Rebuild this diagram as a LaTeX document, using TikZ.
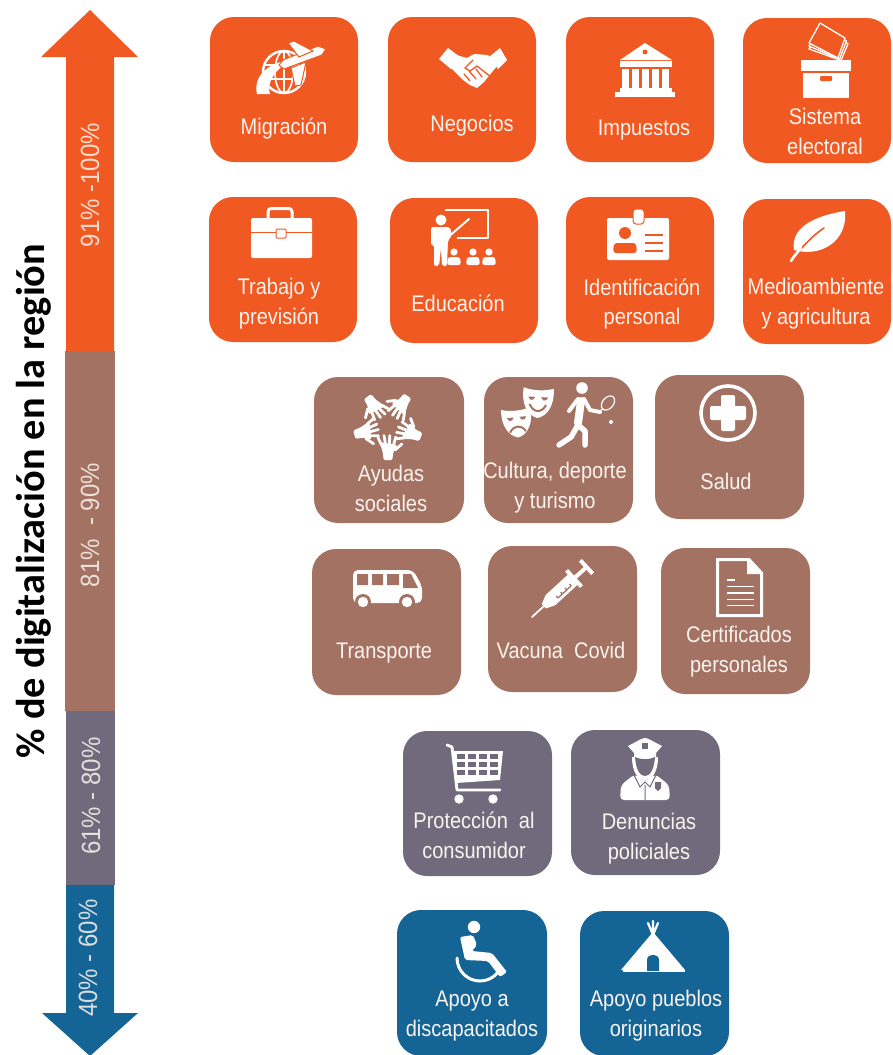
\documentclass[tikz,border=0pt]{standalone}
\usepackage{fontspec}
\setmainfont{Liberation Sans}
\newfontfamily\labfont{Liberation Sans}
\newfontfamily\ttlfont{Carlito}
\definecolor{cOr}{HTML}{F15922}
\definecolor{cBr}{HTML}{A37262}
\definecolor{cGr}{HTML}{706A7C}
\definecolor{cBl}{HTML}{146496}
\definecolor{cTx}{HTML}{FBF3EE}
\tikzset{
  card/.style={rounded corners=24pt},
  lab/.style={text=cTx,align=center,inner sep=0pt,yscale=1.13,transform shape,font=\labfont\fontsize{20}{26.5}\selectfont},
  axlab/.style={text=cTx,opacity=.85,rotate=90,yscale=1.1,transform shape,inner sep=0pt,font=\labfont\fontsize{24}{28}\selectfont},
  ln/.style={draw=white,fill=none,line cap=round,line join=round}
}
\newcommand{\onehand}{%
  \fill[white,rounded corners=1.5pt] (28,-5)--(35,-4.5)--(35,4.5)--(28,5)--(20,9.5)--(17,-8.5)--cycle;
  \draw[ln,line width=2.8pt] (20,-6.5)--(12.5,-10) (19,-2.5)--(10.5,-4) (19,1.5)--(10.5,1.7) (20,5.5)--(12,7.8) (25,7)--(19,14);
}
\newcommand{\mask}[1]{%
  \fill[white] (-15,-14) .. controls (-6,-11) and (6,-11) .. (15,-14) .. controls (17,2) and (10,14) .. (0,16) .. controls (-10,14) and (-17,2) .. (-15,-14) -- cycle;
  \fill[cBr] (-10,-5) -- (-3,-5) -- (-5,-2) -- (-8,-2) -- cycle (10,-5) -- (3,-5) -- (5,-2) -- (8,-2) -- cycle;
  #1
}
\begin{document}
\begin{tikzpicture}[x=1pt,y=-1pt]
\useasboundingbox (0,0) rectangle (892,1055);
% axis arrow
\fill[cOr] (66,351)--(66,57)--(41,57)--(90,10)--(138,57)--(114,57)--(114,351)--cycle;
\fill[cBr] (65,351) rectangle (115,711);
\fill[cGr] (66,711) rectangle (115,885);
\fill[cBl] (66,885)--(114,885)--(114,1013)--(138,1013)--(90,1056)--(42,1013)--(66,1013)--cycle;
\node[axlab] (a1) at (90,185) {91\% -100\%};
\node[axlab] (a2) at (90,525) {81\%\ \ - 90\%};
\node[axlab] (a3) at (91,796) {61\% - 80\%};
\node[axlab] (a4) at (88,958) {40\% - 60\%};
\node[rotate=90,inner sep=0pt,font=\ttlfont\bfseries\fontsize{40.3}{44}\selectfont] (title) at (33.5,501) {\% de digitalización en la región};
% cards
\foreach \xa/\ya/\xb/\yb/\c in {
 210/17/358/162/cOr,388/17/536/162/cOr,566/17/714/162/cOr,743/18/891/163/cOr,
 209/197/357/342/cOr,390/198/538/343/cOr,566/197/714/342/cOr,743/199/891/344/cOr,
 314/377/464/523/cBr,484/377/633/523/cBr,655/375/804/519/cBr,
 312/549/461/695/cBr,488/546/637/692/cBr,661/548/810/694/cBr,
 403/731/552/876/cGr,571/730/720/875/cGr,
 397/910/547/1056/cBl,580/911/729/1056/cBl}
  \fill[card,\c] (\xa,\ya) rectangle (\xb,\yb);
% labels
\node[lab] (l1) at (284,129) {Migración};
\node[lab] (l2) at (472,126) {Negocios};
\node[lab] (l3) at (644,130) {Impuestos};
\node[lab] (l4) at (825,131) {Sistema\\electoral};
\node[lab] (l5) at (279,304) {Trabajo y\\previsión};
\node[lab] (l6) at (458,303) {Educación};
\node[lab] (l7) at (642,304) {Identificación\\personal};
\node[lab] (l8) at (816,304) {Medioambiente\\y agricultura};
\node[lab] (l9) at (391,488) {Ayudas\\sociales};
\node[lab] (l10) at (555,488) {Cultura, deporte\\y turismo};
\node[lab] (l11) at (726,481) {Salud};
\node[lab] (l12) at (384,653) {Transporte};
\node[lab] (l13) at (561,650) {Vacuna\ \ Covid};
\node[lab] (l14) at (739,652) {Certificados\\personales};
\node[lab] (l15) at (474,835) {Protección\ \ al\\consumidor};
\node[lab] (l16) at (649,839) {Denuncias\\policiales};
\node[lab] (l17) at (472,1016) {Apoyo a\\discapacitados};
\node[lab] (l18) at (656,1016) {Apoyo pueblos\\originarios};
% --- Migracion
\draw[ln,line width=2.4pt] (284,72) circle (21pt);
\draw[ln,line width=1.6pt] (284,72) ellipse (9pt and 21pt) (264,65)--(304,65) (264,79)--(304,79) (284,51)--(284,93);
\fill[white] (257,94) .. controls (253,78) and (266,62) .. (292,60) .. controls (276,68) and (266,82) .. (270,94) -- cycle;
\fill[white,draw=cOr,line width=1pt] (326,49) -- (318,46) -- (283,60) -- (279,65) -- (284,69) -- (322,55) -- cycle;
\fill[white,draw=cOr,line width=1pt] (288,43) -- (294,41) -- (313,51) -- (299,57) -- cycle;
\fill[white,draw=cOr,line width=1pt] (291,68) -- (306,62) -- (301,85) -- (295,86) -- cycle;
% --- Negocios
\fill[white] (439,59)--(448,48)--(460,57)--(451,69)--cycle;
\fill[white] (489,57)--(500,48)--(507,60)--(498,69)--cycle;
\fill[white] (456,55)--(467,58)--(474,54)--(488,55)--(497,66)--(484,82)--(477,88)--(470,85)--(463,80)--(451,68)--cycle;
\draw[cOr,line width=1.3pt,line join=round,line cap=round] (473,60)--(465,68)--(470,71)--(477,66)--(491,77) (464,74)--(470,81) (469,71)--(476,79) (476,69)--(482,77);
% --- Impuestos
\fill[white] (645,43)--(672,60)--(620,60)--cycle;
\fill[white] (620,61) rectangle (672,67);
\fill[cOr] (645,52) circle (2.5pt);
\foreach \x in {622,632,642,652,662} \fill[white] (\x,69) rectangle +(7,19);
\fill[white] (620,88) rectangle (672,92);
\fill[white] (615,92) rectangle (675,97);
% --- Sistema electoral
\fill[white] (801,60) rectangle (851,71);
\fill[white] (803,73) rectangle (849,98);
\fill[cOr,rounded corners=1pt] (820,76) rectangle (832,81);
\foreach \d in {6,3,0}
  \filldraw[fill=cOr,draw=white,line width=1.3pt,line join=round] (820+0.5*\d,23+\d) -- (845+0.5*\d,38+\d) -- (838+0.5*\d,58+\d*0.4) -- (809,43+\d) -- cycle;
% --- Trabajo
\draw[ln,line width=3pt,rounded corners=3pt] (268,219)--(268,208.5)--(292,208.5)--(292,219);
\fill[white,rounded corners=2pt] (251,218) rectangle (312,258);
\draw[cOr,line width=1.3pt] (251,232.5)--(312,232.5);
\fill[white,draw=cOr,line width=1pt,rounded corners=1pt] (276,229) rectangle (286,238);
% --- Educacion
\draw[ln,line width=2.5pt,line cap=butt] (445,210)--(488,210)--(488,238)--(457,238);
\fill[white] (441,220) circle (5.5pt);
\fill[white,rounded corners=2pt] (431,227)--(450,227)--(452,236)--(448,240)--(447,266)--(442,266)--(441,248)--(439,266)--(434,266)--(434,245)--(431,245)--cycle;
\draw[ln,line width=2pt] (447,238)--(469,219);
\foreach \x in {454,473,489}{
  \fill[white] (\x,252) circle (3.6pt);
  \fill[white,rounded corners=2.5pt] (\x-7,265)--(\x-6,257)--(\x+6,257)--(\x+7,265)--cycle;
}
% --- Identificacion
\fill[white,rounded corners=2pt] (607,218) rectangle (669,260);
\filldraw[fill=white,draw=cOr,line width=1pt,rounded corners=3pt] (633,209) rectangle (644,224);
\fill[cOr] (625,233) circle (6pt);
\fill[cOr,rounded corners=3pt] (613,253)--(614,243)--(636,243)--(637,253)--cycle;
\draw[cOr,line width=2pt] (645,235)--(663,235) (645,243)--(663,243) (645,251)--(663,251);
% --- Medioambiente
\fill[white] (845,211) .. controls (820,215) and (790,225) .. (794,250) .. controls (822,258) and (848,240) .. (845,211) -- cycle;
\draw[cOr,line width=1.6pt,line cap=round] (800,250) .. controls (808,241) and (815,234) .. (824,228);
\draw[white,line width=2.6pt,line cap=round] (791,261) .. controls (794,256) and (797,253) .. (801,248);
% --- Ayudas
\foreach \a in {270,196,126,56,-20}{
  \begin{scope}[shift={(388,425)},rotate=\a,x=1pt,y=1pt]\onehand\end{scope}
}
% --- Cultura
\begin{scope}[shift={(538,402)},rotate=-3,x=1pt,y=-1pt]
  \mask{\draw[cBr,line width=2pt,line cap=round] (-8,3) .. controls (-4,11) and (4,11) .. (8,3);}
\end{scope}
\begin{scope}[shift={(517,422)},rotate=6,x=1pt,y=-1pt,scale=.97]
  \mask{\draw[cBr,line width=2pt,line cap=round] (-8,10) .. controls (-4,3) and (4,3) .. (8,10);}
\end{scope}
\fill[white] (582,388) circle (5.8pt);
\draw[ln,line width=8pt] (581,401)--(578,423);
\draw[ln,line width=4pt] (578,399)--(569,411)
  (584,399)--(590,410)--(600,412);
\draw[ln,line width=5.5pt] (578,425)--(585,431)--(585,445) (578,425)--(571,437)--(559,445);
\draw[white,line width=1.2pt,rotate around={-40:(608,403)}] (608,403) ellipse (5.5pt and 8pt);
\draw[ln,line width=1.2pt] (603,409)--(598,412);
\fill[white] (611,422) circle (2pt);
% --- Salud
\draw[white,line width=3.6pt] (728,413) circle (27pt);
\fill[white,rounded corners=2pt] (721,395) rectangle (735,431);
\fill[white,rounded corners=2pt] (710,406) rectangle (746,420);
% --- Bus
\fill[white,rounded corners=5pt] (353,570)--(413,570)--(422,586)--(422,603)--(353,603)--cycle;
\fill[cBr] (357,574) rectangle (368,585) (372,574) rectangle (383,585) (387,574) rectangle (399,585);
\fill[cBr] (403,574)--(411,574)--(418,588)--(403,588)--cycle;
\foreach \x in {363,407}{ \fill[cBr] (\x,602) circle (8pt); \fill[white] (\x,602) circle (5.2pt); }
% --- Syringe
\begin{scope}[shift={(532,617)},rotate=42.5,x=1pt,y=1pt]
  \draw[white,line width=1.8pt,line cap=round] (0,0)--(22,0);
  \fill[white] (16,-3)--(25,-7)--(55,-7)--(55,7)--(25,7)--(16,3)--cycle;
  \draw[cBr,line width=1.3pt] (32,-3.5)--(50,-3.5) (32,-3.5)--(32,-1) (38,-3.5)--(38,-1) (44,-3.5)--(44,-1) (50,-3.5)--(50,-1);
  \fill[white] (55,-11) rectangle (59,11);
  \fill[white] (59,-2) rectangle (74,2);
  \fill[white] (72,-9) rectangle (76,9);
\end{scope}
% --- Document
\filldraw[fill=cBr,draw=white,line width=3pt,line join=miter] (717.5,559.5)--(749,559.5)--(761.5,573)--(761.5,615.5)--(717.5,615.5)--cycle;
\fill[white] (747,559)--(762,574)--(747,574)--cycle;
\draw[white,line width=1.8pt] (727,580)--(735,580) (727,586.5)--(754,586.5) (727,593)--(754,593) (727,599.5)--(754,599.5) (727,605.5)--(754,605.5);
% --- Cart
\draw[ln,line width=2.8pt] (447,745)--(452,747)--(457,790)--(500,790);
\fill[white] (453,751)--(503,751)--(500,780)--(456,783)--cycle;
\foreach \i in {0,1,2,3}\foreach \j in {0,1,2}{
  \fill[cGr] (457+10.9*\i,754+7.9*\j) rectangle +(8.2,5.2);
}
\foreach \x in {459,493} \fill[white] (\x,799) circle (4.7pt);
% --- Police
\fill[white] (628,746) .. controls (638,741) and (642,738) .. (645,738) .. controls (648,738) and (652,741) .. (662,746) -- (656,753) -- (656,757) -- (634,757) -- (634,753) -- cycle;
\fill[cGr] (642,743) rectangle (648,749);
\fill[white] (632,757) .. controls (632,772) and (638,780) .. (645,780) .. controls (652,780) and (658,772) .. (658,757) -- cycle;
\fill[cGr] (635,757) .. controls (636,770) and (640,776) .. (645,776) .. controls (650,776) and (654,770) .. (655,757) .. controls (648,760) and (642,760) .. (635,757) -- cycle;
\fill[white,rounded corners=4pt] (620,800)--(621,785)--(635,774)--(645,782)--(655,774)--(669,785)--(670,800)--cycle;
\draw[cGr,line width=1pt] (645,785)--(645,800) (634,775)--(640,787)--(645,782)--(650,787)--(656,775);
\fill[cGr] (655,782)--(661,782)--(661,788)--(658,791)--(655,788)--cycle;
% --- Wheelchair
\fill[white] (474,927) circle (6.2pt);
\draw[ln,line width=3pt] (457,958) arc[start angle=180,end angle=322,radius=23pt];
\fill[white,rounded corners=2pt] (460,937)--(473,935)--(477,945)--(472,951)--(492,953)--(507,972)--(500,977)--(488,961)--(465,960)--cycle;
% --- Teepee
\fill[white] (653,932)--(685,970)--(621,970)--cycle;
\draw[white,line width=2pt] (623,971)--(685,971);
\draw[ln,line width=2.2pt] (653,940)--(653,921) (653,935)--(648,923) (653,935)--(658,923);
\fill[cBl] (647,971)--(647,960) .. controls (647,953) and (659,953) .. (659,960) -- (659,971) -- cycle;
\end{tikzpicture}
\end{document}
